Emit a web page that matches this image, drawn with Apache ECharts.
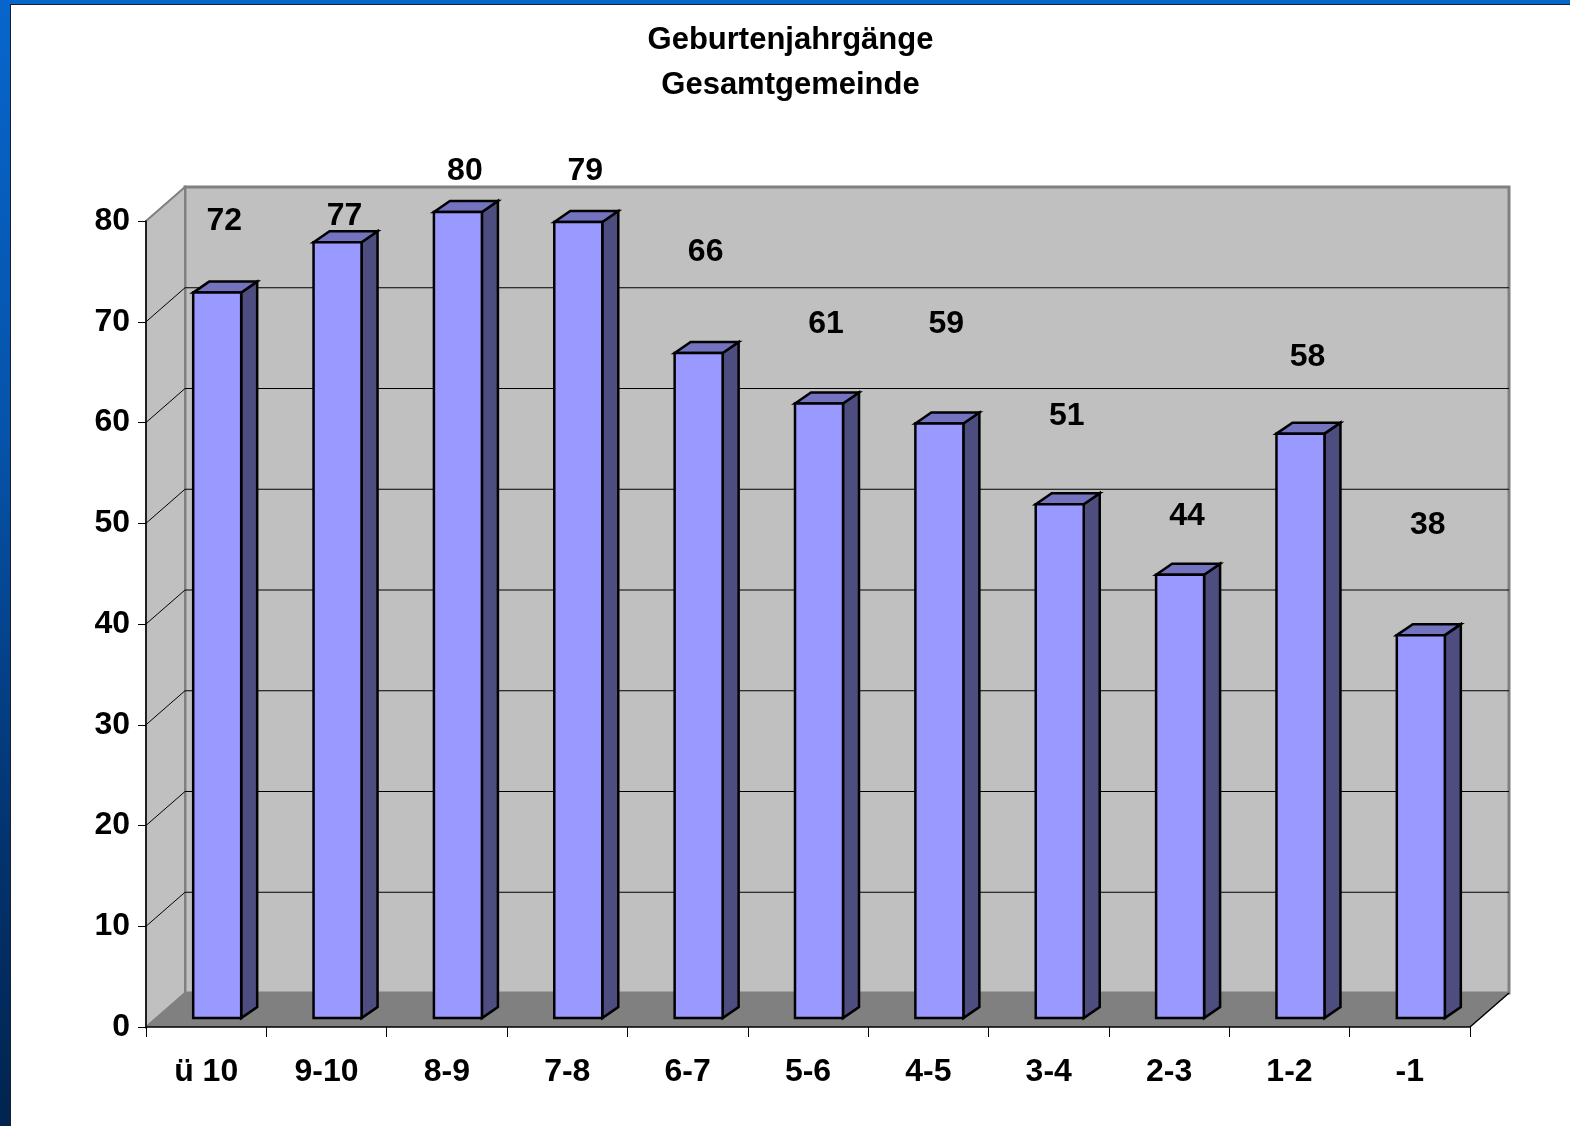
<!DOCTYPE html>
<html>
<head>
<meta charset="utf-8">
<script src="https://cdn.jsdelivr.net/npm/echarts@6/dist/echarts.min.js"></script>
<style>
html, body { margin: 0; padding: 0; width: 1570px; height: 1126px; overflow: hidden; }
body { background: linear-gradient(to bottom, #0766cc 0%, #0652a8 40%, #03336e 75%, #01244f 100%); }
#chart { position: absolute; left: 10px; top: 4px; width: 1559px; height: 1121px; background: #fff;
  border-left: 1px solid #1b1f2b; border-top: 1px solid #1b1f2b; }
</style>
</head>
<body>
<div id="chart"></div>
<script>
// daten
var categories = ['ü 10', '9-10', '8-9', '7-8', '6-7', '5-6', '4-5', '3-4', '2-3', '1-2', '-1'];
var births = [72, 77, 80, 79, 66, 61, 59, 51, 44, 58, 38];
var yTicks = [0, 10, 20, 30, 40, 50, 60, 70, 80];
var titleLines = ['Geburtenjahrgänge', 'Gesamtgemeinde'];

// wie weit die zahl über dem balken steht (wie im original, pixel)
var labelLift = [71, 26, 41, 51, 101, 79, 99, 88, 59, 76, 110];

var depth = [39, -34];     // tiefe der wände
var barDepth = [16, -11];  // tiefe der säulen
var barShift = [11, -9];   // säule sitzt in der mitte der tiefe
var barWidth = 48;
var numFont = '"Liberation Sans", Arial, sans-serif';

var chart = echarts.init(document.getElementById('chart'));

function renderWalls(params, api) {
  var cs = params.coordSys;
  var L = cs.x, R = cs.x + cs.width, T = cs.y, B = cs.y + cs.height;
  var dx = depth[0], dy = depth[1];
  var kids = [];
  // rückwand
  kids.push({
    type: 'polygon',
    shape: { points: [[L + dx, T + dy], [R + dx, T + dy], [R + dx, B + dy], [L + dx, B + dy]] },
    style: { fill: '#c0c0c0', stroke: '#808080', lineWidth: 3 }
  });
  // seitenwand
  kids.push({
    type: 'polygon',
    shape: { points: [[L, T], [L + dx, T + dy], [L + dx, B + dy], [L, B]] },
    style: { fill: '#c0c0c0', stroke: '#808080', lineWidth: 2 }
  });
  // boden
  kids.push({
    type: 'polygon',
    shape: { points: [[L, B], [L + dx, B + dy], [R + dx, B + dy], [R, B]] },
    style: { fill: '#808080' }
  });
  // gitterlinien
  yTicks.slice(1, -1).forEach(function(t) {
    var y = api.coord([0, t])[1];
    kids.push({
      type: 'polyline',
      shape: { points: [[L, y], [L + dx, y + dy], [R + dx, y + dy]] },
      style: { stroke: '#000', lineWidth: 1, fill: null }
    });
  });
  kids.push({
    type: 'line',
    shape: { x1: R, y1: B, x2: R + dx, y2: B + dy },
    style: { stroke: '#000', lineWidth: 1.5 }
  });
  return { type: 'group', children: kids };
}

function renderBar(params, api) {
  var idx = api.value(0);
  var val = api.value(1);
  var top = api.coord([idx, val]);
  var base = api.coord([idx, 0]);
  var x0 = top[0] + barShift[0] - barWidth / 2;
  var x1 = x0 + barWidth;
  var yt = top[1] + barShift[1];
  var yb = base[1] + barShift[1];
  var bx = barDepth[0], by = barDepth[1];
  var line = { stroke: '#000', lineWidth: 2.5, lineJoin: 'miter' };
  return {
    type: 'group',
    children: [{
      type: 'polygon',
      shape: { points: [[x1, yt], [x1 + bx, yt + by], [x1 + bx, yb + by], [x1, yb]] },
      style: Object.assign({ fill: '#4d4d80' }, line)
    }, {
      type: 'polygon',
      shape: { points: [[x0, yt], [x0 + bx, yt + by], [x1 + bx, yt + by], [x1, yt]] },
      style: Object.assign({ fill: '#7373c0' }, line)
    }, {
      type: 'rect',
      shape: { x: x0, y: yt, width: barWidth, height: yb - yt },
      style: Object.assign({ fill: '#9999ff' }, line)
    }, {
      type: 'text',
      style: {
        text: String(val),
        x: x0 + barWidth / 2 + 7,
        y: yt - labelLift[idx],
        align: 'center',
        verticalAlign: 'middle',
        fontSize: 32,
        fontWeight: 'bold',
        fontFamily: numFont,
        fill: '#000'
      }
    }]
  };
}

var titleStyle = {
  fontSize: 31,
  fontWeight: 'bold',
  fontFamily: numFont,
  color: '#000'
};

var option = {
  animation: false,
  title: titleLines.map(function(t, i) {
    return { text: t, left: 'center', top: 20 + i * 45, padding: 0, textStyle: titleStyle };
  }),
  grid: { left: 135, right: 100, top: 216, bottom: 99, containLabel: false },
  xAxis: {
    type: 'category',
    data: categories,
    z: 10,
    axisLine: { lineStyle: { color: '#000', width: 1.5 } },
    axisTick: { show: true, length: 10, lineStyle: { color: '#000', width: 1 } },
    axisLabel: { fontSize: 32, fontWeight: 'bold', fontFamily: numFont, color: '#000', margin: 29 },
    splitLine: { show: false }
  },
  yAxis: {
    type: 'value',
    min: 0,
    max: 80,
    interval: 10,
    z: 10,
    axisLine: { show: true, lineStyle: { color: '#000', width: 1.5 } },
    axisTick: { show: true, length: 8, lineStyle: { color: '#000', width: 1 } },
    axisLabel: { fontSize: 32, fontWeight: 'bold', fontFamily: numFont, color: '#000', margin: 16 },
    splitLine: { show: false }
  },
  series: [{
    type: 'custom',
    silent: true,
    z: 1,
    clip: false,
    renderItem: renderWalls,
    data: [[0, 0]]
  }, {
    type: 'custom',
    z: 3,
    clip: false,
    renderItem: renderBar,
    encode: { x: 0, y: 1 },
    data: births.map(function(v, i) { return [i, v]; })
  }]
};

chart.setOption(option);
</script>
</body>
</html>
